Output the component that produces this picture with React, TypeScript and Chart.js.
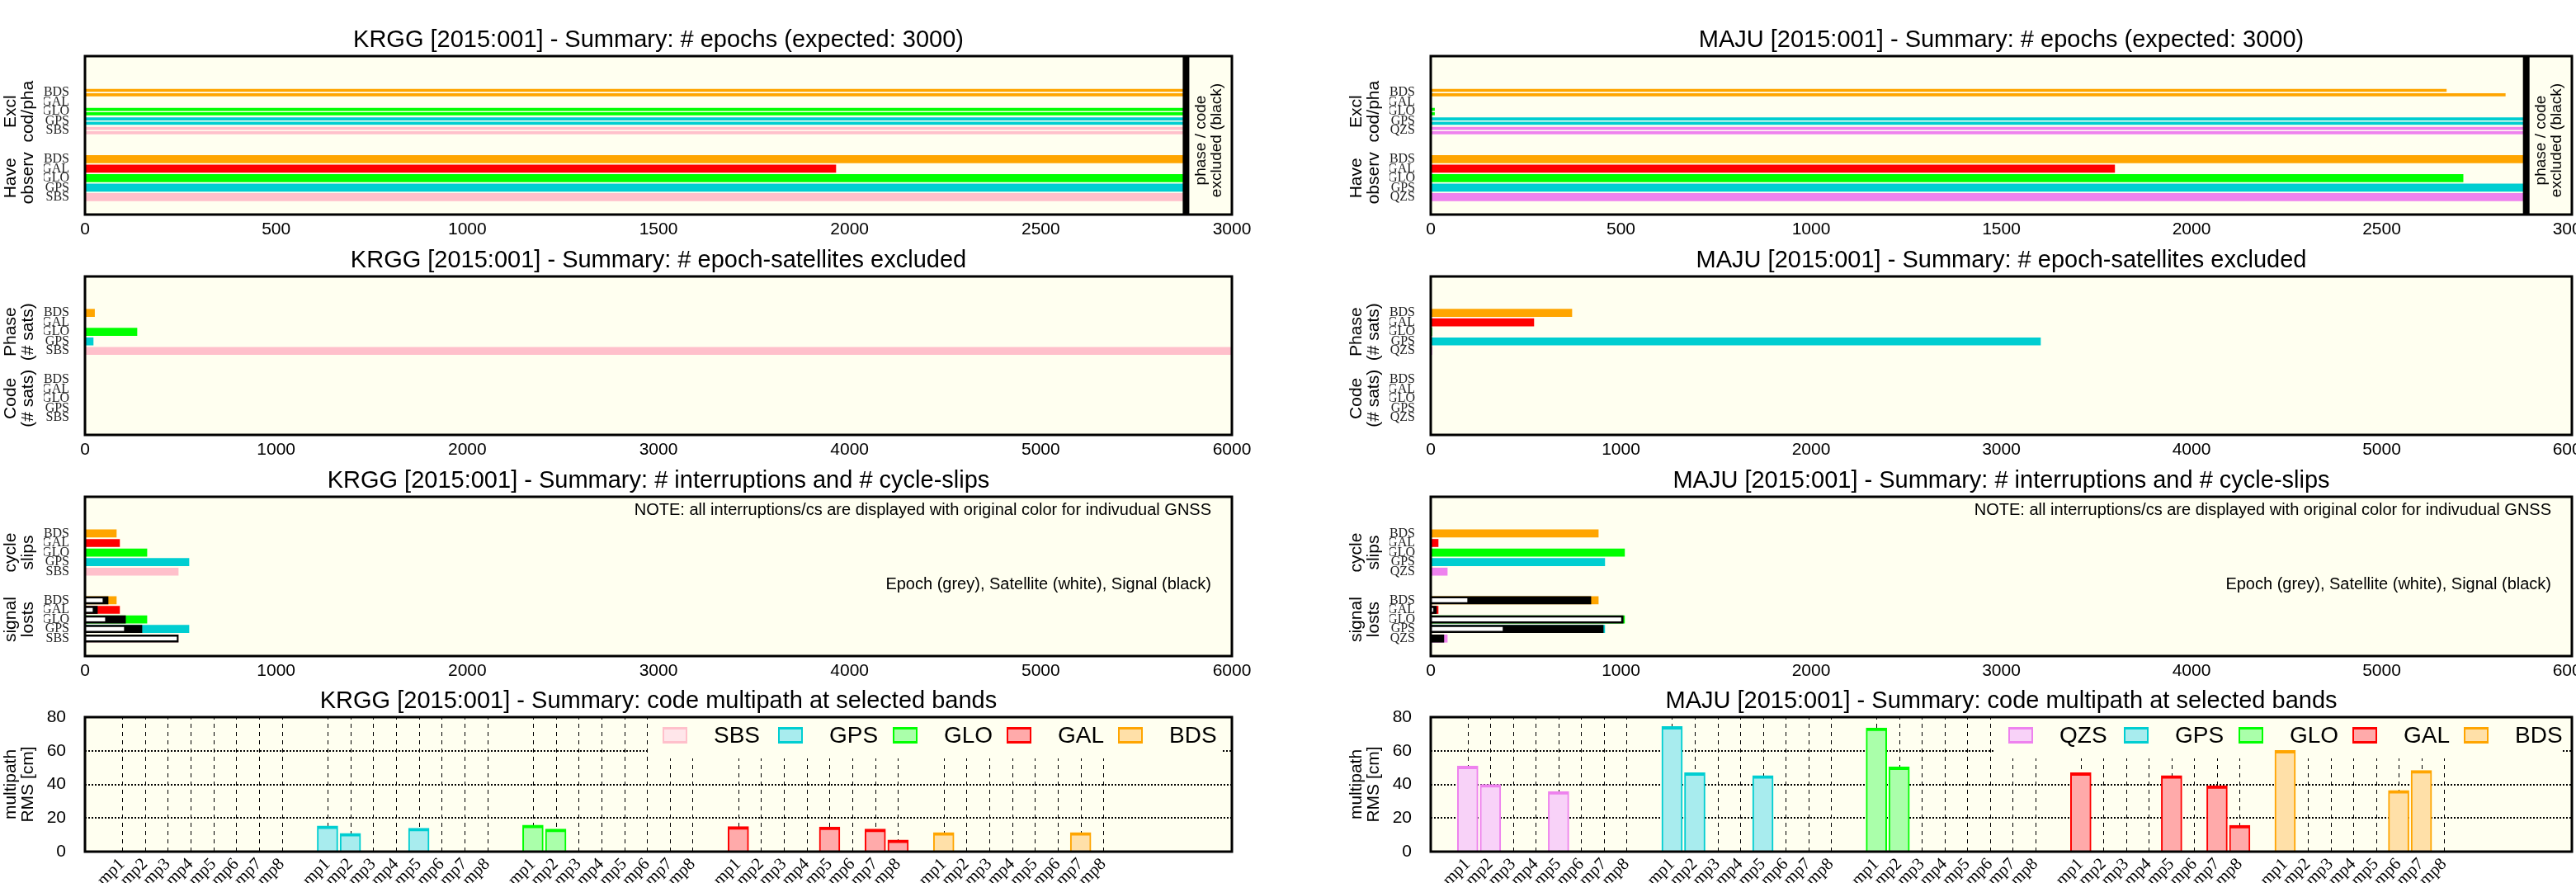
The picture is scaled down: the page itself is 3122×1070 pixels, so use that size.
import React, { useEffect, useRef } from "react";
import { Chart, registerables } from "chart.js";
Chart.register(...registerables);

const SANS = '"Liberation Sans", Arial, Helvetica, sans-serif';
const SERIF = '"Liberation Serif", "Times New Roman", Times, serif';
const IVORY = "#FFFFF0";

// ---------------- data ----------------
const krggSystems = ["BDS", "GAL", "GLO", "GPS", "SBS"];
const majuSystems = ["BDS", "GAL", "GLO", "GPS", "QZS"];

// # epochs (expected 3000)
const krggHaveObs = [2880, 1964, 2880, 2880, 2880];
const krggExclPhase = [2880, 0, 2880, 2880, 2880];
const krggExclCode = [2880, 0, 2880, 2880, 2880];
const krggEpochsAvailable = 2880;
const majuHaveObs = [2880, 1798, 2714, 2880, 2880];
const majuExclPhase = [2670, 0, 10, 2880, 2880];
const majuExclCode = [2825, 0, 10, 2880, 2880];
const majuEpochsAvailable = 2880;

// # epoch-satellites excluded
const krggSatExclPhase = [50, 0, 272, 43, 6000];
const krggSatExclCode = [0, 0, 0, 0, 0];
const majuSatExclPhase = [742, 542, 6, 3206, 6];
const majuSatExclCode = [0, 0, 0, 0, 0];

// # interruptions and # cycle-slips
const krggCycleSlips = [164, 181, 324, 544, 488];
const krggLostTotal = [164, 181, 324, 544, 488];
const krggLostSignal = [121, 65, 212, 298, 488];
const krggLostSatellite = [91, 39, 104, 203, 479];
const majuCycleSlips = [881, 39, 1019, 915, 87];
const majuLostTotal = [881, 39, 1019, 915, 87];
const majuLostSignal = [842, 30, 1012, 907, 69];
const majuLostSatellite = [191, 12, 1000, 377, 0];

// code multipath [cm]
const mpBands = ["mp1", "mp2", "mp3", "mp4", "mp5", "mp6", "mp7", "mp8"];
const krggMpSystems = ["SBS", "GPS", "GLO", "GAL", "BDS"];
const krggMpSBS = [null, null, null, null, null, null, null, null];
const krggMpGPS = [15.3, 10.9, null, null, 13.9, null, null, null];
const krggMpGLO = [15.8, 13.4, null, null, null, null, null, null];
const krggMpGAL = [14.9, null, null, null, 14.7, null, 13.4, 7.0];
const krggMpBDS = [11.4, null, null, null, null, null, 11.4, null];
const majuMpSystems = ["QZS", "GPS", "GLO", "GAL", "BDS"];
const majuMpQZS = [50.9, 40.0, null, null, 35.8, null, null, null];
const majuMpGPS = [74.4, 47.0, null, null, 45.2, null, null, null];
const majuMpGLO = [73.6, 50.4, null, null, null, null, null, null];
const majuMpGAL = [46.9, null, null, null, 45.2, null, 39.2, 15.7];
const majuMpBDS = [60.2, null, null, null, null, 36.4, 48.3, null];

const epochTicksMax = 3000;
const epochTickStep = 500;
const countTicksMax = 6000;
const countTickStep = 1000;
const mpTicksMax = 80;
const mpTickStep = 20;

// ---------------- styles ----------------
const SYS_COLOR: Record<string, string> = {
  BDS: "#FFA500",
  GAL: "#FF0000",
  GLO: "#00FF00",
  GPS: "#00CED1",
  SBS: "#FFC0CB",
  QZS: "#EE82EE",
};
const SYS_FILL: Record<string, string> = {
  BDS: "#FFE0A8",
  GAL: "#FFAAAA",
  GLO: "#AAFFAA",
  GPS: "#A8ECEE",
  SBS: "#FFE6EA",
  QZS: "#F8D2F8",
};

const UPPER = [3, 4, 5, 6, 7];
const LOWER = [10, 11, 12, 13, 14];

const COLS = [
  { cl: 0, cw: 1540, pl: 103, pr: 1493 },
  { cl: 1545, cw: 1620, pl: 1734, pr: 3117 },
];
const ROWS = [
  { ct: 0, ch: 295, pt: 68, pb: 260, xh: 30 },
  { ct: 295, ch: 265, pt: 335, pb: 527, xh: 30 },
  { ct: 560, ch: 270, pt: 602, pb: 795, xh: 30 },
  { ct: 830, ch: 240, pt: 869, pb: 1032, xh: 38 },
];
const YAXIS_W = 50;

type HSeries = {
  group: 0 | 1;
  offset: number;
  thickness: number;
  values: number[];
  colors: string | string[];
  order: number;
};

type HPanel = {
  kind: "h";
  title: string;
  systems: string[];
  xMax: number;
  xStep: number;
  series: HSeries[];
  groups: [string[], string[]];
  epochLine?: number;
  notes?: boolean;
};

type VPanel = {
  kind: "v";
  title: string;
  systems: string[];
  values: (number | null)[][];
};

const sysColors = (s: string[]) => s.map((x) => SYS_COLOR[x]);

function rotatedLines(ctx: CanvasRenderingContext2D, lines: string[], x: number, y: number, gap: number) {
  ctx.save();
  ctx.translate(x, y);
  ctx.rotate(-Math.PI / 2);
  ctx.textAlign = "center";
  ctx.textBaseline = "middle";
  const n = lines.length;
  lines.forEach((l, i) => {
    ctx.fillText(l, 0, (i - (n - 1) / 2) * gap);
  });
  ctx.restore();
}

function framePlugin(title: string, extra: (chart: any) => void, before?: (chart: any) => void) {
  return {
    id: "frame",
    beforeDraw(chart: any) {
      const { ctx, chartArea: a } = chart;
      ctx.save();
      ctx.fillStyle = IVORY;
      ctx.fillRect(a.left, a.top, a.right - a.left, a.bottom - a.top);
      ctx.restore();
    },
    beforeDatasetsDraw(chart: any) {
      if (before) before(chart);
    },
    afterDatasetsDraw(chart: any) {
      const { ctx, chartArea: a } = chart;
      ctx.save();
      extra(chart);
      ctx.strokeStyle = "#000";
      ctx.lineWidth = 3;
      ctx.strokeRect(a.left, a.top, a.right - a.left, a.bottom - a.top);
      ctx.fillStyle = "#000";
      ctx.font = `29px ${SANS}`;
      ctx.textAlign = "center";
      ctx.textBaseline = "middle";
      ctx.fillText(title, (a.left + a.right) / 2, a.top - 19);
      ctx.restore();
    },
  };
}

function layoutFor(col: number, row: number) {
  const c = COLS[col];
  const r = ROWS[row];
  return {
    left: c.pl - c.cl - YAXIS_W,
    top: r.pt - r.ct,
    right: c.cl + c.cw - c.pr,
    bottom: r.ct + r.ch - r.pb - r.xh,
  };
}

function hConfig(p: HPanel, col: number, row: number): any {
  const labelMap: Record<number, string> = {};
  UPPER.forEach((v, i) => (labelMap[v] = p.systems[i]));
  LOWER.forEach((v, i) => (labelMap[v] = p.systems[i]));
  const datasets = p.series.map((s) => {
    const rows = s.group === 0 ? UPPER : LOWER;
    return {
      data: s.values.map((v, i) => ({ x: v, y: rows[i] + s.offset })),
      backgroundColor: s.colors,
      barThickness: s.thickness,
      grouped: false,
      borderWidth: 0,
      order: s.order,
    };
  });
  const xh = ROWS[row].xh;
  const extra = (chart: any) => {
    const { ctx, chartArea: a, scales } = chart;
    const ys = scales.y;
    ctx.fillStyle = "#000";
    ctx.font = `21px ${SANS}`;
    rotatedLines(ctx, p.groups[0], a.left - 79, ys.getPixelForValue(5), 21);
    rotatedLines(ctx, p.groups[1], a.left - 79, ys.getPixelForValue(12), 21);
    if (p.epochLine !== undefined) {
      const x = scales.x.getPixelForValue(p.epochLine);
      ctx.fillRect(x - 4, a.top, 8, a.bottom - a.top);
      ctx.font = `19px ${SANS}`;
      rotatedLines(ctx, ["phase / code", "excluded (black)"], a.right - 28, (a.top + a.bottom) / 2 + 6, 19);
    }
    if (p.notes) {
      ctx.font = `20px ${SANS}`;
      ctx.textAlign = "right";
      ctx.textBaseline = "middle";
      ctx.fillText(
        "NOTE: all interruptions/cs are displayed with original color for indivudual GNSS",
        a.right - 25,
        a.top + 16
      );
      ctx.fillText("Epoch (grey), Satellite (white), Signal (black)", a.right - 25, a.top + 106);
    }
  };
  return {
    type: "bar",
    data: { datasets },
    options: {
      indexAxis: "y",
      animation: false,
      responsive: false,
      devicePixelRatio: 1,
      events: [],
      layout: { padding: layoutFor(col, row) },
      plugins: { legend: { display: false }, tooltip: { enabled: false }, title: { display: false } },
      scales: {
        x: {
          type: "linear",
          min: 0,
          max: p.xMax,
          grid: { display: false, drawTicks: false },
          border: { display: false },
          ticks: {
            stepSize: p.xStep,
            autoSkip: false,
            maxRotation: 0,
            padding: 6,
            color: "#000",
            font: { family: SANS, size: 21 },
            callback: (v: number) => String(v),
          },
          afterFit: (s: any) => {
            s.height = xh;
          },
        },
        y: {
          type: "linear",
          min: 0,
          max: 15,
          reverse: true,
          grid: { display: false, drawTicks: false },
          border: { display: false },
          afterBuildTicks: (s: any) => {
            s.ticks = [...UPPER, ...LOWER].map((v) => ({ value: v }));
          },
          ticks: {
            autoSkip: false,
            padding: 19,
            color: "#222",
            font: { family: SERIF, size: 16 },
            callback: (v: number) => labelMap[v] ?? "",
          },
          afterFit: (s: any) => {
            s.width = YAXIS_W;
          },
        },
      },
    },
    plugins: [framePlugin(p.title, extra)],
  };
}

const SLOTS: number[] = [];
for (let g = 0; g < 5; g++) for (let k = 0; k < 8; k++) SLOTS.push(1 + 9 * g + k);

function vConfig(p: VPanel, col: number, row: number): any {
  const datasets = p.systems.map((sys, g) => {
    const pts: { x: number; y: number }[] = [];
    p.values[g].forEach((v, k) => {
      if (v !== null) pts.push({ x: 1 + 9 * g + k, y: v });
    });
    return {
      label: sys,
      data: pts,
      backgroundColor: SYS_FILL[sys],
      borderColor: SYS_COLOR[sys],
      borderWidth: { left: 2, right: 2, top: 4, bottom: 0 },
      borderSkipped: "bottom",
      barThickness: 25,
      grouped: false,
    };
  });
  const LEG_LEFT = 682;
  const LEG_BOTTOM = 50;
  const legOffsets = [700, 840, 979, 1117, 1252];
  const before = (chart: any) => {
    const { ctx, chartArea: a, scales } = chart;
    const legL = a.left + LEG_LEFT;
    const legR = a.right - 11;
    const legB = a.top + LEG_BOTTOM;
    ctx.save();
    ctx.strokeStyle = "#000";
    ctx.lineWidth = 1;
    ctx.setLineDash([5, 5]);
    SLOTS.forEach((s) => {
      const x = Math.round(scales.x.getPixelForValue(s)) + 0.5;
      ctx.beginPath();
      ctx.moveTo(x, a.bottom);
      ctx.lineTo(x, x > legL ? legB : a.top);
      ctx.stroke();
    });
    ctx.lineWidth = 2;
    ctx.setLineDash([2, 2]);
    [20, 40, 60].forEach((v) => {
      const y = Math.round(scales.y.getPixelForValue(v));
      ctx.beginPath();
      if (y < legB) {
        ctx.moveTo(a.left, y);
        ctx.lineTo(legL, y);
        ctx.moveTo(legR, y);
        ctx.lineTo(a.right, y);
      } else {
        ctx.moveTo(a.left, y);
        ctx.lineTo(a.right, y);
      }
      ctx.stroke();
    });
    ctx.restore();
  };
  const extra = (chart: any) => {
    const { ctx, chartArea: a } = chart;
    ctx.save();
    p.systems.forEach((sys, i) => {
      const x = a.left + legOffsets[i];
      const y = a.top + 13;
      ctx.fillStyle = SYS_FILL[sys];
      ctx.fillRect(x, y, 30, 18);
      ctx.strokeStyle = SYS_COLOR[sys];
      ctx.lineWidth = 2;
      ctx.strokeRect(x + 1, y + 1, 28, 16);
      ctx.fillStyle = SYS_COLOR[sys];
      ctx.fillRect(x, y - 1, 30, 3);
      ctx.fillRect(x, y + 16, 30, 3);
      ctx.fillStyle = "#000";
      ctx.font = `28px ${SANS}`;
      ctx.textAlign = "left";
      ctx.textBaseline = "middle";
      ctx.fillText(sys, x + 62, y + 10);
    });
    ctx.fillStyle = "#000";
    ctx.font = `21px ${SANS}`;
    rotatedLines(ctx, ["multipath", "RMS [cm]"], a.left - 79, (a.top + a.bottom) / 2, 21);
    ctx.restore();
  };
  const xh = ROWS[row].xh;
  return {
    type: "bar",
    data: { datasets },
    options: {
      animation: false,
      responsive: false,
      devicePixelRatio: 1,
      events: [],
      layout: { padding: layoutFor(col, row) },
      plugins: { legend: { display: false }, tooltip: { enabled: false }, title: { display: false } },
      scales: {
        x: {
          type: "linear",
          min: 0,
          max: 49,
          grid: { display: false, drawTicks: false },
          border: { display: false },
          afterBuildTicks: (s: any) => {
            s.ticks = SLOTS.map((v) => ({ value: v }));
          },
          ticks: {
            autoSkip: false,
            minRotation: 45,
            maxRotation: 45,
            padding: 3,
            color: "#000",
            font: { family: SERIF, size: 21 },
            callback: (v: number) => mpBands[((v - 1) % 9 + 9) % 9] ?? "",
          },
          afterFit: (s: any) => {
            s.height = xh;
          },
        },
        y: {
          type: "linear",
          min: 0,
          max: mpTicksMax,
          grid: { display: false, drawTicks: false },
          border: { display: false },
          ticks: {
            stepSize: mpTickStep,
            padding: 23,
            color: "#000",
            font: { family: SANS, size: 21 },
            callback: (v: number) => String(v),
          },
          afterFit: (s: any) => {
            s.width = YAXIS_W;
          },
        },
      },
    },
    plugins: [framePlugin(p.title, extra, before)],
  };
}

function PanelCanvas({ col, row, build }: { col: number; row: number; build: () => any }) {
  const ref = useRef<HTMLCanvasElement>(null);
  const c = COLS[col];
  const r = ROWS[row];
  useEffect(() => {
    if (!ref.current) return;
    const chart = new Chart(ref.current, build());
    return () => chart.destroy();
  }, []);
  return (
    <canvas
      ref={ref}
      width={c.cw}
      height={r.ch}
      style={{ position: "absolute", left: c.cl, top: r.ct, width: c.cw, height: r.ch }}
    />
  );
}

function stationPanels(
  name: string,
  systems: string[],
  haveObs: number[],
  exclPhase: number[],
  exclCode: number[],
  epochsAvail: number,
  satPhase: number[],
  satCode: number[],
  slips: number[],
  lostTotal: number[],
  lostSignal: number[],
  lostSat: number[],
  mpSystems: string[],
  mpValues: (number | null)[][]
) {
  const colors = sysColors(systems);
  const p1: HPanel = {
    kind: "h",
    title: `${name} [2015:001] - Summary: # epochs (expected: ${epochTicksMax})`,
    systems,
    xMax: epochTicksMax,
    xStep: epochTickStep,
    epochLine: epochsAvail,
    groups: [["Excl", "cod/pha"], ["Have", "observ"]],
    series: [
      { group: 0, offset: -0.23, thickness: 3, values: exclPhase, colors, order: 1 },
      { group: 0, offset: 0.23, thickness: 3, values: exclCode, colors, order: 1 },
      { group: 1, offset: 0, thickness: 9, values: haveObs, colors, order: 1 },
    ],
  };
  const p2: HPanel = {
    kind: "h",
    title: `${name} [2015:001] - Summary: # epoch-satellites excluded`,
    systems,
    xMax: countTicksMax,
    xStep: countTickStep,
    groups: [["Phase", "(# sats)"], ["Code", "(# sats)"]],
    series: [
      { group: 0, offset: 0, thickness: 9, values: satPhase, colors, order: 1 },
      { group: 1, offset: 0, thickness: 9, values: satCode, colors, order: 1 },
    ],
  };
  const p3: HPanel = {
    kind: "h",
    title: `${name} [2015:001] - Summary: # interruptions and # cycle-slips`,
    systems,
    xMax: countTicksMax,
    xStep: countTickStep,
    notes: true,
    groups: [["cycle", "slips"], ["signal", "losts"]],
    series: [
      { group: 0, offset: 0, thickness: 9, values: slips, colors, order: 3 },
      { group: 1, offset: 0, thickness: 9, values: lostTotal, colors, order: 3 },
      { group: 1, offset: 0, thickness: 9, values: lostSignal, colors: "#000000", order: 2 },
      { group: 1, offset: 0, thickness: 4, values: lostSat, colors: "#FFFFFF", order: 1 },
    ],
  };
  const p4: VPanel = {
    kind: "v",
    title: `${name} [2015:001] - Summary: code multipath at selected bands`,
    systems: mpSystems,
    values: mpValues,
  };
  return [p1, p2, p3, p4];
}

const leftPanels = stationPanels(
  "KRGG",
  krggSystems,
  krggHaveObs,
  krggExclPhase,
  krggExclCode,
  krggEpochsAvailable,
  krggSatExclPhase,
  krggSatExclCode,
  krggCycleSlips,
  krggLostTotal,
  krggLostSignal,
  krggLostSatellite,
  krggMpSystems,
  [krggMpSBS, krggMpGPS, krggMpGLO, krggMpGAL, krggMpBDS]
);
const rightPanels = stationPanels(
  "MAJU",
  majuSystems,
  majuHaveObs,
  majuExclPhase,
  majuExclCode,
  majuEpochsAvailable,
  majuSatExclPhase,
  majuSatExclCode,
  majuCycleSlips,
  majuLostTotal,
  majuLostSignal,
  majuLostSatellite,
  majuMpSystems,
  [majuMpQZS, majuMpGPS, majuMpGLO, majuMpGAL, majuMpBDS]
);

export default function App() {
  const all = [leftPanels, rightPanels];
  return (
    <div
      style={{
        position: "absolute",
        left: 0,
        top: 0,
        width: 3122,
        height: 1070,
        overflow: "hidden",
        background: "#FFFFFF",
      }}
    >
      {all.map((panels, col) =>
        panels.map((p, row) => (
          <PanelCanvas
            key={`${col}-${row}`}
            col={col}
            row={row}
            build={() => (p.kind === "h" ? hConfig(p as HPanel, col, row) : vConfig(p as VPanel, col, row))}
          />
        ))
      )}
    </div>
  );
}
